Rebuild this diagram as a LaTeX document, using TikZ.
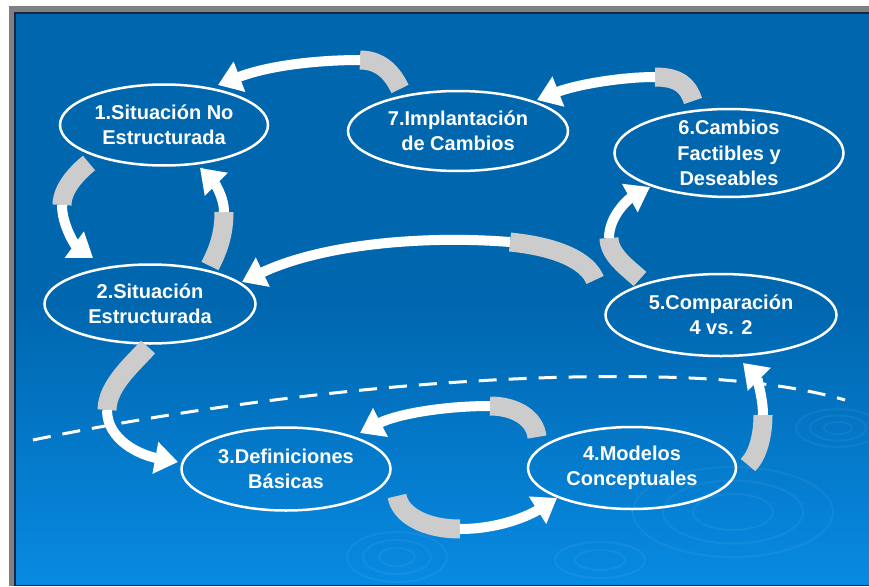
\documentclass[tikz,border=0pt]{standalone}
\usepackage{fontspec}
\setmainfont{Liberation Sans}
\usetikzlibrary{arrows.meta}
\usetikzlibrary{positioning}
\usetikzlibrary{shapes.geometric}

\definecolor{bluetop}{RGB}{0,102,174}
\definecolor{bluebot}{RGB}{8,138,226}
\definecolor{framegray}{RGB}{128,128,128}
\definecolor{frameline}{RGB}{20,40,70}
\definecolor{ribbongray}{RGB}{204,204,204}

\tikzset{
  stage/.style={ellipse, draw=white, line width=2.5pt, text=white, align=center,
    inner sep=-20pt, font=\bfseries\fontsize{20}{25.5}\selectfont},
  backside/.style={draw=ribbongray, line width=19pt},
  frontside/.style={draw=white, line width=10pt, -{Triangle[width=31pt,length=23pt]}},
  ripple/.style={draw=white, opacity=0.05, line width=2pt},
}

\begin{document}
\begin{tikzpicture}[x=1pt,y=-1pt]
        \useasboundingbox (0,0) rectangle (869,586);
        % frame and background
        \fill[white] (0,0) rectangle (869,586);
        \fill[framegray] (9,6) rectangle (869,586);
        \fill[frameline] (14,12) rectangle (869,586);
        \fill[bluetop] (16,14) rectangle (869,300);
        \shade[top color=bluetop, bottom color=bluebot] (16,299) rectangle (869,584.5);

        % ripples
        \foreach \r in {18,34,50} \draw[ripple] (397,557) ellipse ({\r} and {\r*0.5});
        \foreach \r in {40,70,100} \draw[ripple] (733,512) ellipse ({\r} and {\r*0.45});
        \foreach \r in {14,28,42} \draw[ripple] (838,428) ellipse ({\r} and {\r*0.45});
        \foreach \r in {25,45} \draw[ripple] (600,560) ellipse ({\r} and {\r*0.4});

        % dashed horizon
        \draw[white, line width=3pt, dash pattern=on 18pt off 12pt]
          (33,440) .. controls (250,395) and (500,370) .. (690,378)
          .. controls (760,381) and (810,390) .. (845,400);

        \node [stage, minimum width=208pt, minimum height=81pt] (n1) at (164,125) {1.Situación No\\Estructurada};
        \node [stage, minimum width=211pt, minimum height=79pt] (n2) at (150,304) {2.Situación\\Estructurada};
        \node [stage, minimum width=209pt, minimum height=83pt] (n3) at (286,469) {3.Definiciones\\Básicas};
        \node [stage, minimum width=208pt, minimum height=82pt] (n4) at (632,468) {4.Modelos\\Conceptuales};
        \node [stage, minimum width=231pt, minimum height=82pt] (n5) at (721,315) {5.Comparación\\4 vs. 2};
        \node [stage, minimum width=229pt, minimum height=88pt] (n6) at (729,153) {6.Cambios\\Factibles y\\Deseables};
        \node [stage, minimum width=220pt, minimum height=80pt] (n7) at (458,131) {7.Implantación\\de Cambios};

        % twist points of the ribbons
        \coordinate (t12) at (62,205);
        \coordinate (t21) at (224,212);
        \coordinate (t23) at (107,410);
        \coordinate (t34) at (460,529);
        \coordinate (t43) at (490,406);
        \coordinate (t45) at (763,415);
        \coordinate (t52) at (510,242);
        \coordinate (t56) at (609,238);
        \coordinate (t67) at (655,77);
        \coordinate (t71) at (360,60);

        % 1 -> 2
        \draw[backside] ([xshift=-75pt,yshift=-38pt]n1.center) .. controls (78,172) and (62,188) .. (t12);
        \draw[frontside] (t12) .. controls (62,225) and (75,245) .. ([xshift=-57pt,yshift=46pt]n2.center);
        % 2 -> 1
        \draw[backside] ([xshift=60pt,yshift=38pt]n2.center) .. controls (218,250) and (224,235) .. (t21);
        \draw[frontside] (t21) .. controls (224,195) and (212,180) .. ([xshift=36pt,yshift=-43pt]n1.center);
        % 2 -> 3
        \draw[backside] ([xshift=-2pt,yshift=-43pt]n2.center) .. controls (135,362) and (107,385) .. (t23);
        \draw[frontside] (t23) .. controls (107,440) and (140,455) .. ([xshift=-108pt,yshift=7pt]n3.center);
        % 3 -> 4
        \draw[backside] ([xshift=111pt,yshift=-27pt]n3.center) .. controls (400,515) and (425,529) .. (t34);
        \draw[frontside] (t34) .. controls (500,529) and (530,515) .. ([xshift=-75pt,yshift=-30pt]n4.center);
        % 4 -> 3
        \draw[backside] ([xshift=-95pt,yshift=31pt]n4.center) .. controls (535,418) and (515,406) .. (t43);
        \draw[frontside] (t43) .. controls (440,406) and (395,415) .. ([xshift=74pt,yshift=36pt]n3.center);
        % 4 -> 5
        \draw[backside] ([xshift=116pt,yshift=3pt]n4.center) .. controls (758,455) and (763,435) .. (t45);
        \draw[frontside] (t45) .. controls (763,395) and (755,375) .. ([xshift=22pt,yshift=-48pt]n5.center);
        % 5 -> 2
        \draw[backside] ([xshift=-126pt,yshift=35pt]n5.center) .. controls (588,262) and (560,247) .. (t52);
        \draw[frontside] (t52) .. controls (420,235) and (320,245) .. ([xshift=92pt,yshift=22pt]n2.center);
        % 5 -> 6
        \draw[backside] ([xshift=-81pt,yshift=36pt]n5.center) .. controls (628,268) and (609,255) .. (t56);
        \draw[frontside] (t56) .. controls (609,215) and (630,198) .. ([xshift=-79pt,yshift=-34pt]n6.center);
        % 6 -> 7
        \draw[backside] ([xshift=-36pt,yshift=52pt]n6.center) .. controls (688,85) and (678,77) .. (t67);
        \draw[frontside] (t67) .. controls (620,77) and (575,85) .. ([xshift=79pt,yshift=31pt]n7.center);
        % 7 -> 1
        \draw[backside] ([xshift=-58pt,yshift=42pt]n7.center) .. controls (392,72) and (380,60) .. (t71);
        \draw[frontside] (t71) .. controls (320,60) and (270,65) .. ([xshift=54pt,yshift=40pt]n1.center);
\end{tikzpicture}
\end{document}
